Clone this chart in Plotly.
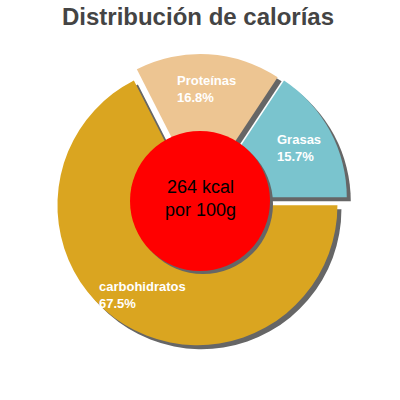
import math
import plotly.graph_objects as go

# --- Data ---
labels = ["Grasas", "Proteínas", "carbohidratos"]
values = [15.7, 16.8, 67.5]
pct_text = ["15.7%", "16.8%", "67.5%"]
colors = ["#7AC4CE", "#EDC592", "#DAA520"]
pulls = [0.055, 0.05, 0.035]
kcal_text = "264 kcal<br>por 100g"

W = H = 400
CX, CY = 200, 201          # pie centre in px (from top-left)
HALF = 147.7               # half the pie domain in px
SHADOW = "#666666"
FONT = "Liberation Sans, Arial, sans-serif"

total = sum(values)
# plotly's counterclockwise pies end the first slice at `rotation`,
# so shift it back to make Grasas start at 3 o'clock
rot = 90 - 360 * values[0] / total


def dom(dx=0, dy=0):
    return dict(x=[(CX - HALF + dx) / W, (CX + HALF + dx) / W],
                y=[1 - (CY + HALF + dy) / H, 1 - (CY - HALF + dy) / H])


fig = go.Figure()

# shadow pie, shifted down/right
fig.add_trace(go.Pie(
    labels=labels, values=values, pull=pulls, sort=False,
    direction="counterclockwise", rotation=rot, textinfo="none",
    marker=dict(colors=[SHADOW] * len(values)),
    domain=dom(4, 4), hoverinfo="skip", showlegend=False,
))
# main pie
fig.add_trace(go.Pie(
    labels=labels, values=values, pull=pulls, sort=False,
    direction="counterclockwise", rotation=rot, textinfo="none",
    marker=dict(colors=colors),
    domain=dom(), showlegend=False,
))

# red centre disc + shadow
R_IN = 70
for dx, col in [(3, SHADOW), (0, "#FF0000")]:
    fig.add_shape(type="circle", xref="paper", yref="paper",
                  x0=(CX - R_IN + dx) / W, x1=(CX + R_IN + dx) / W,
                  y0=1 - (CY + R_IN + dx) / H, y1=1 - (CY - R_IN + dx) / H,
                  fillcolor=col, line_width=0, layer="above")

# slice labels along each bisector
r = HALF / (1 + max(pulls))
cum = 0
for lab, v, p, pu in zip(labels, values, pct_text, pulls):
    ang = math.radians(360 * (cum + v / 2) / total)
    cum += v
    d = (pu + 0.75) * r
    fig.add_annotation(
        x=(CX + d * math.cos(ang)) / W, y=1 - (CY - d * math.sin(ang)) / H,
        xref="paper", yref="paper", text=f"{lab}<br>{p}", showarrow=False,
        align="left", xanchor="center", yanchor="middle",
        font=dict(family=FONT, size=13, color="white", weight="bold"),
    )

# centre text
fig.add_annotation(x=CX / W, y=1 - CY / H, xref="paper", yref="paper",
                   text=kcal_text, showarrow=False, yshift=2,
                   font=dict(family=FONT, size=18, color="black"))

fig.update_layout(
    width=W, height=H,
    margin=dict(l=0, r=0, t=0, b=0),
    paper_bgcolor="white", plot_bgcolor="white",
    title=dict(text="<b>Distribución de calorías</b>", x=198 / W,
               xanchor="center", y=1 - 16.5 / H, yanchor="middle",
               yref="container",
               font=dict(family=FONT, size=24, color="#444444")),
    showlegend=False,
)

# drop the browser's default body margin so the figure fills the window
fig.write_html("out.html", config={"displayModeBar": False},
               post_script="document.body.style.margin='0';")
